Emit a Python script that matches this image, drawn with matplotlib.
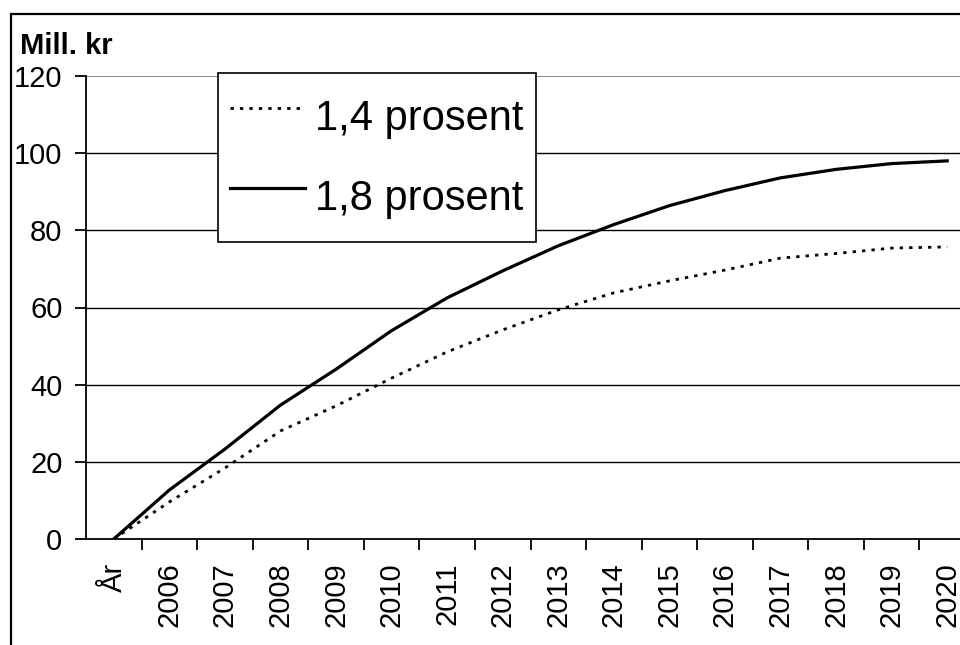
import matplotlib.pyplot as plt
from matplotlib.patches import Rectangle

plt.rcParams['font.family'] = ['Liberation Sans', 'DejaVu Sans']

# === data ===
categories = ["År", "2006", "2007", "2008", "2009", "2010", "2011", "2012",
              "2013", "2014", "2015", "2016", "2017", "2018", "2019", "2020"]
pct_14 = [0, 9.6, 18.4, 28.0, 34.5, 41.7, 48.5, 54.2,
          59.4, 63.8, 66.9, 69.7, 72.8, 74.0, 75.4, 75.7]
pct_18 = [0, 12.7, 23.3, 34.7, 44.0, 54.0, 62.5, 69.5,
          76.0, 81.5, 86.4, 90.3, 93.6, 95.8, 97.3, 98.0]
labels = ["1,4 prosent", "1,8 prosent"]
yticks = [0, 20, 40, 60, 80, 100, 120]

W, H = 960, 645
fig = plt.figure(figsize=(W / 100, H / 100), dpi=100)

# outer frame (image is cropped on right and bottom)
fig.patches.append(Rectangle((11 / W, -0.05), 1.2, (H - 14) / H + 0.05,
                             transform=fig.transFigure, fill=False,
                             edgecolor="black", linewidth=1.6))

left, right = 86 / W, 975 / W
top, bottom = (H - 76) / H, (H - 539) / H
ax = fig.add_axes([left, bottom, right - left, top - bottom])

x = list(range(len(categories)))
l1, = ax.plot(x, pct_14, color="black", linewidth=2.0, linestyle=(0, (1.2, 2.2)),
              label=labels[0])
l2, = ax.plot(x, pct_18, color="black", linewidth=2.3, label=labels[1])

ax.set_xlim(-0.5, len(categories) - 0.5)
ax.set_ylim(0, 120)
ax.set_yticks(yticks)
ax.set_yticklabels([str(v) for v in yticks], fontsize=21)
for v in yticks[1:-1]:
    ax.axhline(v, color="black", linewidth=1.0, zorder=1)
ax.axhline(120, color="#808080", linewidth=1.3, zorder=1)

ax.set_xticks(x)
ax.set_xticklabels(categories, rotation=90, fontsize=21)
ax.set_xticks([i + 0.5 for i in x[:-1]], minor=True)
ax.tick_params(axis="x", which="major", length=0, pad=17)
ax.tick_params(axis="x", which="minor", length=8, width=1.3, direction="out")
ax.tick_params(axis="y", length=8, width=1.3, direction="out", pad=9)

for s in ["top", "right"]:
    ax.spines[s].set_visible(False)
ax.spines["left"].set_linewidth(1.3)
ax.spines["bottom"].set_linewidth(1.3)

fig.text(20 / W, (H - 54) / H, "Mill. kr", fontsize=21, fontweight="bold",
         ha="left", va="baseline")

leg = ax.legend(handles=[l1, l2], loc="upper left",
                bbox_to_anchor=((218 - 86) / (975 - 86), 1.007),
                fontsize=30, frameon=True, fancybox=False, handlelength=1.8,
                handleheight=2.0, handletextpad=0.24, borderpad=0.29,
                labelspacing=0.38, borderaxespad=0)
leg.get_frame().set_edgecolor("black")
leg.get_frame().set_linewidth(1.2)
leg.get_frame().set_alpha(1)

fig.savefig("out.png", dpi=100)
